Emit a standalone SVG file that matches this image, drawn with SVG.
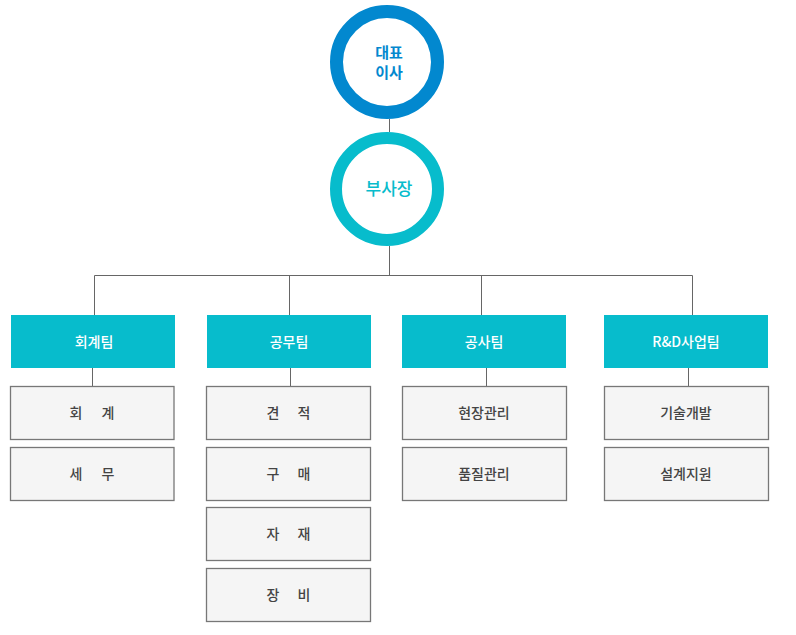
<svg xmlns="http://www.w3.org/2000/svg" width="796" height="635" viewBox="0 0 796 635">
<style>
.team{fill:#07bccc}
.sub{fill:#f5f5f5;stroke:#777;stroke-width:1.3}
.tt{font-family:"Noto Sans CJK KR","Noto Sans",sans-serif;font-size:14px;fill:#fff;text-anchor:middle;font-weight:500}
.st{font-family:"Noto Sans CJK KR","Noto Sans",sans-serif;font-size:14px;fill:#444;text-anchor:middle;font-weight:500}
.ln{stroke:#666;stroke-width:1;fill:none}
</style>
<rect width="796" height="635" fill="#fff"/>
<g id="connectors">
<path class="ln" d="M389.5 119V132M389.5 246V275.5M94.5 275.5H692.5M94.5 275.5V315M289.5 275.5V315M481.5 275.5V315M692.5 275.5V315M92.5 368V386M290.5 368V386M486.5 368V386M688.5 368V386"/>
</g>
<g id="ceo">
<circle cx="387" cy="62" r="50.5" fill="#fff" stroke="#0288cf" stroke-width="13"/>
<text x="389" y="58" font-family="'Noto Sans CJK KR',sans-serif" font-size="15" font-weight="bold" fill="#0288cf" text-anchor="middle">대표</text>
<text x="389" y="78" font-family="'Noto Sans CJK KR',sans-serif" font-size="15" font-weight="bold" fill="#0288cf" text-anchor="middle">이사</text>
</g>
<g id="vp">
<circle cx="387" cy="189" r="51" fill="#fff" stroke="#07bccc" stroke-width="12"/>
<text x="389" y="195" font-family="'Noto Sans CJK KR',sans-serif" font-size="17" font-weight="500" fill="#07bccc" text-anchor="middle">부사장</text>
</g>
<g id="team1"><rect class="team" x="11" y="315" width="164" height="53"/><text class="tt" x="94" y="347">회계팀</text></g>
<g id="team2"><rect class="team" x="207" y="315" width="164" height="53"/><text class="tt" x="289" y="347">공무팀</text></g>
<g id="team3"><rect class="team" x="402" y="315" width="164" height="53"/><text class="tt" x="484" y="347">공사팀</text></g>
<g id="team4"><rect class="team" x="604" y="315" width="164" height="53"/><text class="tt" x="686" y="347">R&amp;D사업팀</text></g>
<g id="s1a"><rect class="sub" x="10.5" y="386.5" width="163.5" height="53"/><text class="st" x="76" y="418">회</text><text class="st" x="108" y="418">계</text></g>
<g id="s1b"><rect class="sub" x="10.5" y="447.5" width="163.5" height="53"/><text class="st" x="76" y="479">세</text><text class="st" x="108" y="479">무</text></g>
<g id="s2a"><rect class="sub" x="206.5" y="386.5" width="164" height="53"/><text class="st" x="273" y="418">견</text><text class="st" x="304" y="418">적</text></g>
<g id="s2b"><rect class="sub" x="206.5" y="447.5" width="164" height="53"/><text class="st" x="273" y="479">구</text><text class="st" x="304" y="479">매</text></g>
<g id="s2c"><rect class="sub" x="206.5" y="507.5" width="164" height="53"/><text class="st" x="273" y="539">자</text><text class="st" x="304" y="539">재</text></g>
<g id="s2d"><rect class="sub" x="206.5" y="568.5" width="164" height="53"/><text class="st" x="273" y="600">장</text><text class="st" x="304" y="600">비</text></g>
<g id="s3a"><rect class="sub" x="402.5" y="386.5" width="164" height="53"/><text class="st" x="484" y="418">현장관리</text></g>
<g id="s3b"><rect class="sub" x="402.5" y="447.5" width="164" height="53"/><text class="st" x="484" y="479">품질관리</text></g>
<g id="s4a"><rect class="sub" x="604.5" y="386.5" width="164" height="53"/><text class="st" x="686" y="418">기술개발</text></g>
<g id="s4b"><rect class="sub" x="604.5" y="447.5" width="164" height="53"/><text class="st" x="686" y="479">설계지원</text></g>
</svg>
